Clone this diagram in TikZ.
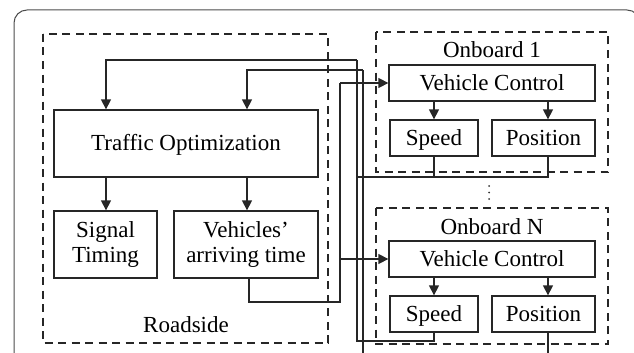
\documentclass[tikz,border=0pt]{standalone}
\usepackage{fontspec}
\setmainfont{Liberation Serif}
\usetikzlibrary{arrows.meta,calc}
\begin{document}
\begin{tikzpicture}[x=1pt,y=-1pt,
  box/.style={draw=black!85,line width=1.3pt,inner sep=0pt,align=center,
    font=\fontsize{23}{25}\selectfont},
  one/.style={text height=18pt,text depth=4pt},
  grp/.style={draw=black!85,line width=1.3pt,dash pattern=on 8pt off 5.5pt},
  lbl/.style={inner sep=0pt,font=\fontsize{23}{25}\selectfont},
  wire/.style={draw=black!85,line width=1.3pt},
  arr/.style={wire,-{Triangle[length=10pt,width=10pt]}}]
\useasboundingbox (0,0) rectangle (634,353);
\begin{scope}
\clip (0,0) rectangle (634,353);
\draw[black!70,line width=1pt,rounded corners=13pt] (14,380) -- (14,10) -- (640,10) -- (640,380);
\end{scope}
% groups
\draw[grp] (43,34) rectangle (328,343);
\draw[grp] (376,32) rectangle (608,172);
\draw[grp] (376,208) rectangle (608,344);
\node[lbl,one] (rs) at (186,325) {Roadside};
\node[lbl,one] (ob1) at (492,50) {Onboard 1};
\node[lbl,one] (obn) at (492,227) {Onboard N};
% nodes
\node[box,one,minimum width=264pt,minimum height=67pt] (to) at (186,143.5) {Traffic Optimization};
\node[box,minimum width=103pt,minimum height=67pt] (sig) at (105.5,244.5) {Signal\\Timing};
\node[box,minimum width=144pt,minimum height=67pt] (veh) at (246,244.5) {Vehicles’\\arriving time};
\node[box,one,minimum width=206pt,minimum height=36pt] (vc1) at (492,83) {Vehicle Control};
\node[box,one,minimum width=88pt,minimum height=36pt] (sp1) at (434,138) {Speed};
\node[box,one,minimum width=103pt,minimum height=36pt] (po1) at (543.5,138) {Position};
\node[box,one,minimum width=206pt,minimum height=36pt] (vcn) at (492,259) {Vehicle Control};
\node[box,one,minimum width=88pt,minimum height=36pt] (spn) at (434,314) {Speed};
\node[box,one,minimum width=103pt,minimum height=36pt] (pon) at (543.5,314) {Position};
% column coordinates
\coordinate (cL) at (106,0);
\coordinate (cR) at (247,0);
\coordinate (cP) at (548,0);
\coordinate (cV) at (249,0);
\coordinate (bus1) at (357,0);
\coordinate (bus2) at (363,0);
\coordinate (bus3) at (340,0);
\coordinate (top1) at (0,60);
\coordinate (top2) at (0,70);
\coordinate (h1) at (0,177);
\coordinate (hn) at (0,341);
\coordinate (hv) at (0,302);
\coordinate (bot) at (0,360);
% internal arrows
\draw[arr] (to.south -| cL) -- (sig.north -| cL);
\draw[arr] (to.south -| cR) -- (veh.north -| cR);
\draw[arr] (vc1.south -| sp1) -- (sp1.north);
\draw[arr] (vc1.south -| cP) -- (po1.north -| cP);
\draw[arr] (vcn.south -| spn) -- (spn.north);
\draw[arr] (vcn.south -| cP) -- (pon.north -| cP);
% feedback: speeds
\draw[wire] (spn.south) |- (hn -| bus1) -- (top1 -| bus1);
\draw[arr] (top1 -| bus1) -| (to.north -| cL);
\draw[wire] (sp1.south) -- (h1 -| sp1);
\draw[wire] (po1.south -| cP) -- (h1 -| cP) -- (h1 -| bus1);
% feedback: positions
\draw[wire] (pon.south -| cP) -- (bot -| cP);
\draw[wire] (bot -| bus2) -- (top2 -| bus2);
\draw[arr] (top2 -| bus2) -| (to.north -| cR);
% arriving time to vehicles
\draw[wire] (veh.south -| cV) |- (hv -| bus3) -- (vc1.west -| bus3);
\draw[arr] (vc1.west -| bus3) -- (vc1.west);
\draw[arr] (vcn.west -| bus3) -- (vcn.west);
% dots
\fill[black!80] (489,186) circle (1pt) (489,192.5) circle (1pt) (489,199) circle (1pt);
\end{tikzpicture}
\end{document}
